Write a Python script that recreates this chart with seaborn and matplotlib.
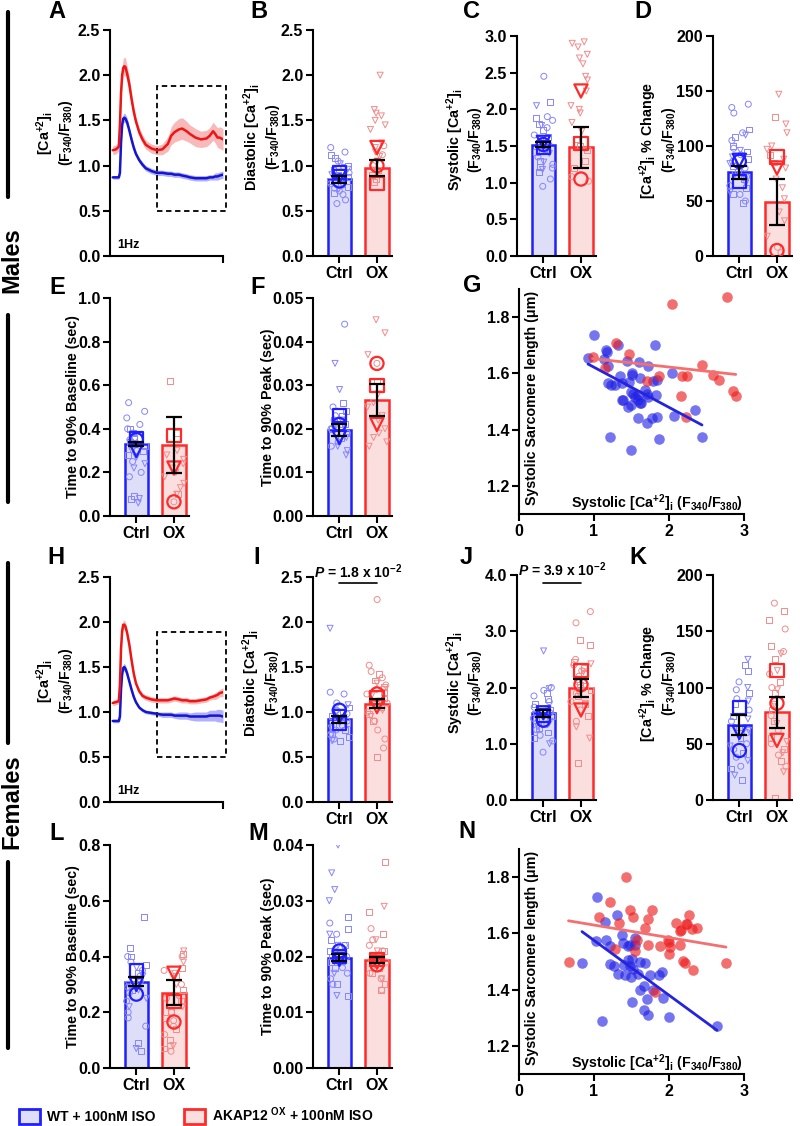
import numpy as np
import pandas as pd
import matplotlib
matplotlib.use('Agg')
import matplotlib.pyplot as plt
from matplotlib.patches import Patch, Rectangle
from matplotlib.lines import Line2D
import seaborn as sns

np.random.seed(7)

# ---------------- traces (A, H) ----------------
trace_t = [0.0, 0.03, 0.055, 0.065, 0.075, 0.085, 0.095, 0.105, 0.115, 0.13, 0.15, 0.17,
           0.19, 0.21, 0.24, 0.27, 0.3, 0.35, 0.4, 0.45, 0.5, 0.53, 0.56, 0.6, 0.63, 0.67,
           0.7, 0.75, 0.8, 0.85, 0.88, 0.91, 0.93, 0.95, 0.97, 1.0]
a_blue = [0.87, 0.87, 0.87, 0.92, 1.25, 1.45, 1.52, 1.53, 1.52, 1.48, 1.39, 1.29, 1.20, 1.13,
          1.06, 1.01, 0.97, 0.94, 0.92, 0.92, 0.91, 0.91, 0.90, 0.90, 0.89, 0.88, 0.87, 0.86,
          0.86, 0.86, 0.87, 0.87, 0.88, 0.88, 0.89, 0.90]
a_blue_sem = [0.02, 0.02, 0.02, 0.03, 0.04, 0.05, 0.05, 0.05, 0.05, 0.05, 0.04, 0.04, 0.04,
              0.03, 0.03, 0.03, 0.03, 0.03, 0.03, 0.03, 0.03, 0.03, 0.03, 0.03, 0.03, 0.03,
              0.03, 0.03, 0.03, 0.03, 0.03, 0.03, 0.04, 0.04, 0.04, 0.04]
a_red = [1.17, 1.18, 1.21, 1.45, 1.80, 2.00, 2.08, 2.10, 2.09, 2.02, 1.90, 1.74, 1.60, 1.49,
         1.37, 1.29, 1.23, 1.19, 1.17, 1.18, 1.24, 1.33, 1.37, 1.40, 1.41, 1.38, 1.35, 1.31,
         1.29, 1.30, 1.33, 1.38, 1.35, 1.31, 1.31, 1.29]
a_red_sem = [0.05, 0.05, 0.05, 0.07, 0.09, 0.10, 0.10, 0.10, 0.10, 0.09, 0.08, 0.07, 0.06,
             0.05, 0.05, 0.05, 0.05, 0.05, 0.05, 0.06, 0.08, 0.10, 0.11, 0.12, 0.12, 0.11,
             0.10, 0.10, 0.09, 0.09, 0.09, 0.10, 0.10, 0.11, 0.12, 0.12]
h_blue = [0.90, 0.90, 0.90, 0.95, 1.25, 1.42, 1.49, 1.50, 1.48, 1.43, 1.34, 1.25, 1.17, 1.11,
          1.05, 1.02, 1.00, 0.99, 0.98, 0.97, 0.97, 0.97, 0.96, 0.96, 0.96, 0.96, 0.95, 0.95,
          0.95, 0.95, 0.96, 0.96, 0.96, 0.96, 0.96, 0.95]
h_blue_sem = [0.02, 0.02, 0.02, 0.03, 0.04, 0.04, 0.04, 0.04, 0.04, 0.04, 0.03, 0.03, 0.03,
              0.02, 0.02, 0.02, 0.02, 0.02, 0.02, 0.03, 0.03, 0.03, 0.03, 0.04, 0.04, 0.04,
              0.04, 0.05, 0.05, 0.05, 0.06, 0.06, 0.06, 0.07, 0.07, 0.07]
h_red = [1.10, 1.11, 1.12, 1.30, 1.70, 1.90, 1.97, 1.97, 1.95, 1.88, 1.75, 1.58, 1.43, 1.32,
         1.23, 1.18, 1.16, 1.14, 1.13, 1.13, 1.13, 1.14, 1.15, 1.14, 1.13, 1.13, 1.12, 1.12,
         1.13, 1.14, 1.16, 1.17, 1.18, 1.19, 1.21, 1.22]
h_red_sem = [0.03, 0.03, 0.03, 0.04, 0.05, 0.05, 0.05, 0.05, 0.05, 0.05, 0.04, 0.04, 0.03,
             0.03, 0.03, 0.03, 0.03, 0.03, 0.03, 0.03, 0.03, 0.03, 0.03, 0.03, 0.03, 0.03,
             0.03, 0.03, 0.03, 0.03, 0.03, 0.03, 0.04, 0.04, 0.04, 0.05]

# ---------------- bar panels: cells by marker, animal means (o, s, v, *), mean, sem ----------------
b_ctrl = {'o': [1.2, 1.15, 1.05, 0.98, 0.92, 0.88, 0.85, 0.8, 0.75, 0.72, 0.68, 0.62, 0.58],
          's': [1.12, 1.08, 1.0, 0.95, 0.9, 0.87, 0.83, 0.8, 0.76, 0.7],
          'v': [1.02, 0.96, 0.9, 0.86, 0.82, 0.78, 0.74],
          'ast': [0.94, 0.88, 0.84, 0.8, 0.76]}
b_ox = {'o': [1.22, 1.12, 1.0], 's': [0.95, 0.9, 0.85, 0.82],
        'v': [2.0, 1.62, 1.58, 1.55, 1.5, 1.45, 1.4, 1.25, 1.2, 1.15, 1.1, 1.05, 0.95],
        'ast': [1.4, 1.38, 0.92]}
b_ctrl_big = [0.83, 0.92, 0.88, 0.82]
b_ox_big = [1.0, 0.8, 1.2, 0.9]
b_mean, b_sem = [0.85, 0.97], [0.04, 0.09]

c_ctrl = {'o': [2.45, 1.9, 1.85, 1.75, 1.65, 1.55, 1.45, 1.35, 1.25, 1.2, 1.05, 0.95],
          's': [2.1, 1.88, 1.8, 1.72, 1.62, 1.52, 1.42, 1.3, 1.22, 1.15],
          'v': [2.05, 1.78, 1.6, 1.5, 1.4, 1.28, 1.18],
          'ast': [1.95, 1.7, 1.58, 1.48, 1.38]}
c_ox = {'o': [1.08, 1.02], 's': [1.6, 1.5, 1.45, 1.3, 1.2],
        'v': [2.92, 2.9, 2.85, 2.75, 2.7, 2.62, 2.45, 2.4, 2.25, 2.05, 2.0, 1.95, 1.82, 1.7],
        'ast': [1.15, 1.12]}
c_ctrl_big = [1.52, 1.48, 1.55, 1.5]
c_ox_big = [1.05, 1.53, 2.25, 1.13]
c_mean, c_sem = [1.52, 1.48], [0.03, 0.28]

d_ctrl = {'o': [138, 135, 130, 112, 105, 98, 92, 86, 80, 72, 64, 56, 50],
          's': [115, 108, 100, 95, 88, 82, 76, 70, 62, 56, 48],
          'v': [110, 96, 90, 84, 74, 66, 58],
          'ast': [102, 88, 78, 68, 60]}
d_ox = {'o': [8, 3], 's': [126, 92, 85],
        'v': [147, 120, 112, 100, 97, 88, 80, 70, 62, 52, 40, 32, 18],
        'ast': [30, 25]}
d_ctrl_big = [86, 68, 87, 65]
d_ox_big = [5, 90, 80, 28]
d_mean, d_sem = [76, 49], [6, 21]

e_ctrl = {'o': [0.52, 0.48, 0.45, 0.42, 0.4, 0.38, 0.36, 0.35, 0.33, 0.3, 0.25, 0.2, 0.18],
          's': [0.4, 0.38, 0.36, 0.34, 0.32, 0.3, 0.28, 0.09, 0.08],
          'v': [0.33, 0.3, 0.27, 0.24, 0.22, 0.08, 0.06],
          'ast': [0.47, 0.37, 0.34, 0.1, 0.07]}
e_ox = {'o': [0.065], 's': [0.62, 0.38, 0.1],
        'v': [0.3, 0.28, 0.26, 0.24, 0.22, 0.2, 0.18, 0.15, 0.13, 0.1],
        'ast': []}
e_ctrl_big = [0.35, 0.355, 0.30, 0.33]
e_ox_big = [0.065, 0.37, 0.22, 0.675]
e_mean, e_sem = [0.33, 0.325], [0.01, 0.13]

f_ctrl = {'o': [0.044, 0.025, 0.023, 0.022, 0.021, 0.02, 0.019, 0.018, 0.017, 0.016],
          's': [0.026, 0.024, 0.023, 0.022, 0.021, 0.02, 0.019, 0.018],
          'v': [0.035, 0.029, 0.022, 0.02, 0.018, 0.016, 0.015, 0.014],
          'ast': [0.032, 0.021, 0.019, 0.017, 0.013]}
f_ox = {'o': [0.035], 's': [0.031],
        'v': [0.045, 0.042, 0.037, 0.028, 0.026, 0.025, 0.023, 0.022, 0.02, 0.019, 0.018,
              0.017, 0.016],
        'ast': [0.02]}
f_ctrl_big = [0.021, 0.023, 0.018, 0.0165]
f_ox_big = [0.035, 0.030, 0.021, 0.020]
f_mean, f_sem = [0.0198, 0.0266], [0.0014, 0.0037]

i_ctrl = {'o': [1.22, 1.2, 1.1, 1.02, 0.98, 0.95, 0.9, 0.85, 0.8, 0.75, 0.7],
          's': [1.05, 1.0, 0.96, 0.92, 0.88, 0.84, 0.8, 0.76, 0.72, 0.68],
          'v': [1.93, 1.08, 1.0, 0.94, 0.88, 0.82, 0.74, 0.68],
          'ast': [1.12, 0.97, 0.9, 0.86, 0.78]}
i_ox = {'o': [2.25, 1.52, 1.45, 1.38, 1.3, 1.25, 1.2, 1.1, 1.0, 0.9, 0.8, 0.7, 0.6],
        's': [1.42, 1.35, 1.28, 1.22, 1.15, 1.05, 0.98, 0.9, 0.5],
        'v': [1.32, 1.25, 1.18, 1.12, 1.08, 1.02, 0.95],
        'ast': [1.4, 1.3, 1.15, 1.05, 0.92]}
i_ctrl_big = [1.02, 0.87, 0.95, 0.9]
i_ox_big = [1.2, 1.16, 1.06, 1.0]
i_mean, i_sem = [0.92, 1.09], [0.04, 0.05]

j_ctrl = {'o': [2.0, 1.95, 1.85, 1.75, 1.65, 1.55, 1.45, 1.35, 1.25, 1.15, 1.05, 0.85],
          's': [1.9, 1.8, 1.7, 1.6, 1.5, 1.42, 1.35, 1.28, 1.2, 1.1],
          'v': [2.65, 1.98, 1.62, 1.52, 1.4, 1.3, 1.0],
          'ast': [2.0, 1.78, 1.68, 1.58, 1.48]}
j_ox = {'o': [3.35, 3.15, 2.5, 2.4, 2.3, 2.2, 2.1, 2.0, 1.9, 1.75, 1.6, 1.4],
        's': [2.85, 2.75, 2.45, 2.35, 2.25, 2.15, 2.05, 1.95, 1.85, 1.7, 1.5, 0.65],
        'v': [2.42, 2.28, 2.12, 2.02, 1.88, 1.72, 1.3, 1.1],
        'ast': [2.48, 2.3, 1.95, 1.55, 1.2]}
j_ctrl_big = [1.42, 1.5, 1.55, 1.72]
j_ox_big = [2.05, 2.3, 1.6, 2.0]
j_mean, j_sem = [1.54, 2.0], [0.06, 0.16]

k_ctrl = {'o': [105, 98, 90, 80, 70, 60, 50, 45, 38, 30],
          's': [120, 115, 95, 85, 75, 65, 55, 42, 28, 18],
          'v': [125, 100, 88, 72, 62, 48, 35, 22],
          'ast': [108, 92, 82, 68, 52]}
k_ox = {'o': [175, 152, 132, 112, 100, 88, 75, 62, 50, 40, 30],
        's': [168, 160, 137, 125, 105, 95, 80, 70, 55, 45, 35, 2],
        'v': [130, 115, 98, 85, 68, 52, 42, 25],
        'ast': [120, 92, 72, 22, 18]}
k_ctrl_big = [44, 82, 60, 84]
k_ox_big = [86, 115, 53, 65]
k_mean, k_sem = [67, 78], [9, 14]

l_ctrl = {'o': [0.4, 0.38, 0.35, 0.33, 0.31, 0.29, 0.27, 0.24, 0.2, 0.18, 0.15],
          's': [0.54, 0.43, 0.4, 0.37, 0.34, 0.32, 0.3, 0.28, 0.09, 0.06],
          'v': [0.36, 0.33, 0.3, 0.28, 0.25, 0.22, 0.07],
          'ast': [0.39, 0.34, 0.31, 0.19, 0.05]}
l_ox = {'o': [0.4, 0.35, 0.3, 0.25, 0.2, 0.17, 0.15, 0.12, 0.08, 0.06],
        's': [0.41, 0.36, 0.33, 0.28, 0.24, 0.2, 0.18, 0.14, 0.1, 0.07],
        'v': [0.42, 0.38, 0.34, 0.3, 0.26, 0.22, 0.08],
        'ast': [0.64, 0.54, 0.5, 0.39, 0.33]}
l_ctrl_big = [0.265, 0.35, 0.30, 0.32]
l_ox_big = [0.165, 0.24, 0.34, 0.35]
l_mean, l_sem = [0.31, 0.27], [0.017, 0.045]

m_ctrl = {'o': [0.026, 0.024, 0.022, 0.021, 0.02, 0.019, 0.018, 0.017, 0.016, 0.015],
          's': [0.027, 0.025, 0.023, 0.022, 0.021, 0.02, 0.019, 0.018, 0.015, 0.013],
          'v': [0.04, 0.035, 0.032, 0.03, 0.024, 0.022, 0.019, 0.017, 0.013],
          'ast': [0.038, 0.027, 0.02, 0.018, 0.016]}
m_ox = {'o': [0.025, 0.023, 0.022, 0.021, 0.02, 0.019, 0.018, 0.017, 0.016, 0.014],
        's': [0.037, 0.028, 0.024, 0.021, 0.02, 0.019, 0.018, 0.017, 0.015, 0.014],
        'v': [0.029, 0.023, 0.021, 0.019, 0.018, 0.016],
        'ast': [0.033, 0.031, 0.027, 0.022, 0.02, 0.017]}
m_ctrl_big = [0.021, 0.020, 0.0195, 0.019]
m_ox_big = [0.0185, 0.0195, 0.019, 0.021]
m_mean, m_sem = [0.0198, 0.0194], [0.0006, 0.0006]

# ---------------- correlation panels (G, N) ----------------
g_blue_x = [0.92, 1.00, 1.16, 1.17, 1.13, 1.19, 1.32, 1.19, 1.23, 1.28, 1.35, 1.37, 1.37, 1.38,
            1.44, 1.46, 1.45, 1.49, 1.51, 1.51, 1.49, 1.52, 1.55, 1.58, 1.59, 1.61, 1.62, 1.61,
            1.60, 1.72, 1.72, 1.68, 1.71, 1.70, 1.77, 1.78, 1.81, 1.84, 1.83, 1.84, 1.58, 1.21,
            1.49, 1.87, 2.04, 2.07, 2.35, 2.44]
g_blue_y = [1.655, 1.736, 1.682, 1.676, 1.652, 1.625, 1.700, 1.566, 1.560, 1.560, 1.590, 1.566,
            1.507, 1.505, 1.644, 1.570, 1.480, 1.487, 1.600, 1.593, 1.534, 1.528, 1.516, 1.505,
            1.523, 1.495, 1.493, 1.582, 1.640, 1.625, 1.516, 1.540, 1.528, 1.422, 1.440, 1.572,
            1.700, 1.576, 1.523, 1.446, 1.443, 1.375, 1.328, 1.367, 1.600, 1.448, 1.470, 1.375]
g_red_x = [0.98, 1.15, 1.29, 1.47, 1.71, 1.86, 2.04, 2.16, 2.17, 2.24, 2.22, 2.44, 2.59, 2.67,
           2.77, 2.85, 2.89]
g_red_y = [1.658, 1.620, 1.708, 1.668, 1.573, 1.590, 1.845, 1.519, 1.590, 1.590, 1.446, 1.629,
           1.596, 1.576, 1.873, 1.538, 1.519]

n_blue_x = [0.84, 1.04, 1.02, 1.15, 1.16, 1.21, 1.21, 1.27, 1.30, 1.32, 1.37, 1.39, 1.40, 1.41,
            1.45, 1.48, 1.45, 1.48, 1.51, 1.49, 1.52, 1.55, 1.55, 1.58, 1.50, 1.10, 1.61, 1.66,
            1.66, 1.72, 1.70, 1.61, 1.68, 1.75, 1.86, 1.91, 1.78, 1.92, 2.00, 2.64]
n_blue_y = [1.495, 1.731, 1.572, 1.640, 1.576, 1.554, 1.490, 1.484, 1.664, 1.455, 1.593, 1.566,
            1.487, 1.452, 1.554, 1.557, 1.507, 1.484, 1.510, 1.446, 1.475, 1.557, 1.582, 1.455,
            1.357, 1.290, 1.400, 1.413, 1.327, 1.310, 1.367, 1.500, 1.495, 1.452, 1.452, 1.464,
            1.400, 1.369, 1.304, 1.271]
n_red_x = [0.66, 1.06, 1.21, 1.28, 1.33, 1.48, 1.52, 1.42, 1.55, 1.57, 1.68, 1.72, 1.72, 1.77,
           1.81, 1.88, 1.99, 2.00, 2.01, 2.00, 2.09, 2.15, 2.15, 2.16, 2.18, 2.21, 2.23, 2.24,
           2.26, 2.31, 2.32, 2.37, 2.76]
n_red_y = [1.498, 1.658, 1.711, 1.544, 1.637, 1.682, 1.658, 1.800, 1.538, 1.578, 1.620, 1.652,
           1.560, 1.684, 1.391, 1.554, 1.578, 1.568, 1.552, 1.526, 1.637, 1.560, 1.609, 1.612,
           1.501, 1.493, 1.634, 1.632, 1.664, 1.614, 1.469, 1.618, 1.493]

# ---------------- style ----------------
sns.set_theme(style='ticks')
plt.rcParams['font.family'] = ['Liberation Sans', 'DejaVu Sans']
plt.rcParams.update({
    'font.weight': 'bold', 'axes.labelweight': 'bold',
    'axes.linewidth': 1.5, 'xtick.major.width': 1.5, 'ytick.major.width': 1.5,
    'xtick.major.size': 5, 'ytick.major.size': 5,
    'xtick.labelsize': 11.5, 'ytick.labelsize': 11.5,
    'xtick.major.pad': 2.5, 'ytick.major.pad': 2,
    'xtick.color': 'black', 'ytick.color': 'black', 'axes.edgecolor': 'black',
    'text.color': 'black', 'axes.labelcolor': 'black',
    'mathtext.fontset': 'custom', 'mathtext.rm': 'Liberation Sans:bold',
    'mathtext.bf': 'Liberation Sans:bold', 'mathtext.it': 'Liberation Sans:italic:bold',
    'mathtext.default': 'bf',
})

BLUE, RED = '#1f1fff', '#ff2a2a'
FILL_BLUE, FILL_RED = '#dedef9', '#fbdfdf'
PT_BLUE, PT_RED = '#8585ff', '#f28b8b'
GROUPS = ['Ctrl', 'OX']
SHAPES = ['o', 's', 'v', 'ast']
MARKERS = {'o': 'o', 's': 's', 'v': 'v', 'ast': (6, 2, 0)}
CA = '[Ca$^{+2}$]$_{i}$'
RATIO = '(F$_{340}$/F$_{380}$)'
LABEL_SIZE = 10.3

W, H = 800, 1126
fig = plt.figure(figsize=(8, 11.26), dpi=100)


def add_ax(left, top, right, bottom):
    return fig.add_axes([left / W, 1 - bottom / H, (right - left) / W, (bottom - top) / H])


def two_line_label(line1, line2, x1, x2, yc):
    # rotated two-line y label, each line placed on its own (pixel positions)
    for s, x in [(line1, x1), (line2, x2)]:
        fig.text(x / W, 1 - yc / H, s, rotation=90, ha='center', va='center',
                 fontsize=LABEL_SIZE, fontweight='bold')


def trace_panel(ax, blue, blue_sem, red, red_sem, rect_top):
    t = np.array(trace_t)
    for vals, sem, lc, fc in [(blue, blue_sem, '#1515d0', '#7070ff'),
                              (red, red_sem, '#ee1515', '#f28080')]:
        vals, sem = np.array(vals), np.array(sem)
        ax.fill_between(t, vals - sem, vals + sem, color=fc, alpha=0.55, lw=0)
        sns.lineplot(x=t, y=vals, color=lc, lw=1.8, ax=ax)
    ax.add_patch(Rectangle((0.40, 0.5), 0.63, rect_top - 0.5, fill=False, ls=(0, (3, 2)),
                           lw=1.3, ec='black', clip_on=False))
    ax.set_xlim(-0.025, 1.0)
    ax.set_xticks([1.0])
    ax.set_xticklabels([''])
    ax.set_ylim(0, 2.5)
    ax.set_yticks([0, 0.5, 1.0, 1.5, 2.0, 2.5])
    ax.set_yticklabels([f'{v:.1f}' for v in [0, 0.5, 1.0, 1.5, 2.0, 2.5]])
    ax.text(0.06, 0.035, '1Hz', transform=ax.transAxes, fontsize=9, fontweight='bold')
    ax.set_ylabel('')
    sns.despine(ax=ax)


def bar_panel(ax, ctrl, ox, ctrl_big, ox_big, mean, sem, ylim, yticks, fmt, ylabel=None,
              lab_x=None):
    bars = pd.DataFrame({'group': GROUPS, 'value': mean})
    sns.barplot(data=bars, x='group', y='value', hue='group', order=GROUPS, hue_order=GROUPS,
                palette=[FILL_BLUE, FILL_RED], saturation=1, width=0.62, errorbar=None,
                legend=False, ax=ax)
    for p, ec in zip(ax.patches, [BLUE, RED]):
        p.set_edgecolor(ec)
        p.set_linewidth(1.8)
        p.set_zorder(1)
    for g, pts, big, pc, bc in [('Ctrl', ctrl, ctrl_big, PT_BLUE, BLUE),
                                ('OX', ox, ox_big, PT_RED, RED)]:
        for key in SHAPES:
            if not pts[key]:
                continue
            df = pd.DataFrame({'group': g, 'value': pts[key]})
            sns.stripplot(data=df, x='group', y='value', order=GROUPS, jitter=0.27,
                          marker=MARKERS[key], size=4.3, color=pc, facecolor='none',
                          edgecolor=pc, linewidth=0.7, ax=ax, zorder=2)
        for key, v in zip(SHAPES, big):
            df = pd.DataFrame({'group': [g], 'value': [v]})
            sns.stripplot(data=df, x='group', y='value', order=GROUPS, jitter=False,
                          marker=MARKERS[key], size=9.5, color=bc, facecolor='none',
                          edgecolor=bc, linewidth=1.6, ax=ax, zorder=3)
    ax.errorbar([0, 1], mean, yerr=sem, fmt='none', ecolor='black', elinewidth=1.6,
                capsize=5.5, capthick=1.6, zorder=5)
    ax.set_xlim(-0.7, 1.4)
    ax.set_ylim(*ylim)
    ax.set_yticks(yticks)
    ax.set_yticklabels([fmt.format(v) for v in yticks])
    ax.set_xlabel('')
    if ylabel:
        ax.set_ylabel(ylabel, fontsize=LABEL_SIZE)
        ax.yaxis.set_label_coords(lab_x, 0.5)
    else:
        ax.set_ylabel('')
    sns.despine(ax=ax)


def corr_panel(ax, bx, by, rx, ry):
    sns.regplot(x=bx, y=by, ci=None, ax=ax, color='#2020e6',
                scatter_kws=dict(s=58, alpha=0.62, linewidths=0, zorder=2),
                line_kws=dict(color='#2424e0', lw=2, zorder=3))
    sns.regplot(x=rx, y=ry, ci=None, ax=ax, color='#ee2020',
                scatter_kws=dict(s=58, alpha=0.65, linewidths=0, zorder=2),
                line_kws=dict(color='#f47070', lw=2, zorder=3))
    ax.set_xlim(0, 3)
    ax.set_ylim(1.1, 1.9)
    ax.set_xticks([0, 1, 2, 3])
    ax.set_xticklabels(['0', '1', '2', '3'])
    ax.set_yticks([1.2, 1.4, 1.6, 1.8])
    ax.set_yticklabels(['1.2', '1.4', '1.6', '1.8'])
    ax.set_xlabel('')
    ax.set_ylabel('')
    ax.text(0.058, 0.515, 'Systolic Sarcomere length (μm)', transform=ax.transAxes,
            rotation=90, ha='center', va='center', fontsize=LABEL_SIZE, fontweight='bold')
    ax.text(0.995, 0.05, 'Systolic ' + CA + ' ' + RATIO, transform=ax.transAxes,
            ha='right', va='center', fontsize=LABEL_SIZE, fontweight='bold')
    sns.despine(ax=ax)


def p_note(ax, text, y_line, y_text):
    ax.plot([0, 1], [y_line, y_line], color='black', lw=1.2, clip_on=False)
    ax.text(0.5, y_text, text, ha='center', va='center', fontsize=10, clip_on=False)


# ---------------- males ----------------
ax = add_ax(110, 30, 223, 256)
trace_panel(ax, a_blue, a_blue_sem, a_red, a_red_sem, 1.88)
two_line_label(CA, RATIO, 45, 66, 133)

ax = add_ax(313, 30, 392, 256)
bar_panel(ax, b_ctrl, b_ox, b_ctrl_big, b_ox_big, b_mean, b_sem, (0, 2.5),
          [0, 0.5, 1.0, 1.5, 2.0, 2.5], '{:.1f}')
two_line_label('Diastolic ' + CA, RATIO, 252, 273, 137)

ax = add_ax(517, 36, 596, 256)
bar_panel(ax, c_ctrl, c_ox, c_ctrl_big, c_ox_big, c_mean, c_sem, (0, 3.0),
          [0, 0.5, 1.0, 1.5, 2.0, 2.5, 3.0], '{:.1f}')
two_line_label('Systolic ' + CA, RATIO, 455, 475, 140)

ax = add_ax(713, 36, 792, 256)
bar_panel(ax, d_ctrl, d_ox, d_ctrl_big, d_ox_big, d_mean, d_sem, (0, 200),
          [0, 50, 100, 150, 200], '{:.0f}')
two_line_label(CA + ' % Change', RATIO, 648, 669, 140)

ax = add_ax(110, 298, 189, 516)
bar_panel(ax, e_ctrl, e_ox, e_ctrl_big, e_ox_big, e_mean, e_sem, (0, 1.0),
          [0, 0.2, 0.4, 0.6, 0.8, 1.0], '{:.1f}', 'Time to 90% Baseline (sec)', -0.38)

ax = add_ax(313, 298, 392, 516)
bar_panel(ax, f_ctrl, f_ox, f_ctrl_big, f_ox_big, f_mean, f_sem, (0, 0.05),
          [0, 0.01, 0.02, 0.03, 0.04, 0.05], '{:.2f}', 'Time to 90% Peak (sec)', -0.48)

ax = add_ax(519, 289, 744, 514)
corr_panel(ax, g_blue_x, g_blue_y, g_red_x, g_red_y)

# ---------------- females ----------------
ax = add_ax(110, 577, 223, 802)
trace_panel(ax, h_blue, h_blue_sem, h_red, h_red_sem, 1.89)
two_line_label(CA, RATIO, 45, 66, 681)

ax = add_ax(313, 577, 392, 802)
bar_panel(ax, i_ctrl, i_ox, i_ctrl_big, i_ox_big, i_mean, i_sem, (0, 2.5),
          [0, 0.5, 1.0, 1.5, 2.0, 2.5], '{:.1f}')
two_line_label('Diastolic ' + CA, RATIO, 251, 272, 683)
p_note(ax, '$\\mathit{P}$ = 1.8 x 10$^{-2}$', 2.43, 2.56)

ax = add_ax(517, 575, 596, 800)
bar_panel(ax, j_ctrl, j_ox, j_ctrl_big, j_ox_big, j_mean, j_sem, (0, 4.0),
          [0, 1.0, 2.0, 3.0, 4.0], '{:.1f}')
two_line_label('Systolic ' + CA, RATIO, 455, 475, 683)
p_note(ax, '$\\mathit{P}$ = 3.9 x 10$^{-2}$', 3.86, 4.1)

ax = add_ax(713, 575, 792, 800)
bar_panel(ax, k_ctrl, k_ox, k_ctrl_big, k_ox_big, k_mean, k_sem, (0, 200),
          [0, 50, 100, 150, 200], '{:.0f}')
two_line_label(CA + ' % Change', RATIO, 648, 669, 683)

ax = add_ax(110, 845, 189, 1068)
bar_panel(ax, l_ctrl, l_ox, l_ctrl_big, l_ox_big, l_mean, l_sem, (0, 0.8),
          [0, 0.2, 0.4, 0.6, 0.8], '{:.1f}', 'Time to 90% Baseline (sec)', -0.38)

ax = add_ax(313, 845, 392, 1068)
bar_panel(ax, m_ctrl, m_ox, m_ctrl_big, m_ox_big, m_mean, m_sem, (0, 0.04),
          [0, 0.01, 0.02, 0.03, 0.04], '{:.2f}', 'Time to 90% Peak (sec)', -0.48)

ax = add_ax(519, 849, 744, 1074)
corr_panel(ax, n_blue_x, n_blue_y, n_red_x, n_red_y)

# ---------------- figure decorations ----------------
letters = [('A', 57, 12), ('B', 259, 12), ('C', 472, 12), ('D', 643, 12),
           ('E', 57, 287), ('F', 258, 287), ('G', 472, 285),
           ('H', 56, 557), ('I', 257, 557), ('J', 466, 557), ('K', 638, 557),
           ('L', 57, 833), ('M', 258, 833), ('N', 467, 832)]
for s, x, y in letters:
    fig.text(x / W, 1 - y / H, s, fontsize=17, fontweight='bold', ha='center', va='center')

for y0, y1 in [(12, 197), (315, 502), (563, 743), (862, 1048)]:
    fig.add_artist(Line2D([8 / W, 8 / W], [1 - y0 / H, 1 - y1 / H], color='black', lw=3))
fig.text(12 / W, 1 - 260 / H, 'Males', rotation=90, fontsize=17, fontweight='bold',
         ha='center', va='center')
fig.text(12 / W, 1 - 802 / H, 'Females', rotation=90, fontsize=17, fontweight='bold',
         ha='center', va='center')

handles = [Patch(facecolor=FILL_BLUE, edgecolor=BLUE, lw=2, label='WT + 100nM ISO'),
           Patch(facecolor=FILL_RED, edgecolor=RED, lw=2,
                 label='AKAP12 $^{OX}$ + 100nM ISO')]
fig.legend(handles=handles, loc='center left', bbox_to_anchor=(0.008, 1 - 1115 / H), ncol=2,
           frameon=False, fontsize=10, handlelength=1.5, handleheight=1.2,
           handletextpad=0.5, columnspacing=2.1)

fig.savefig('out.png', dpi=100)
